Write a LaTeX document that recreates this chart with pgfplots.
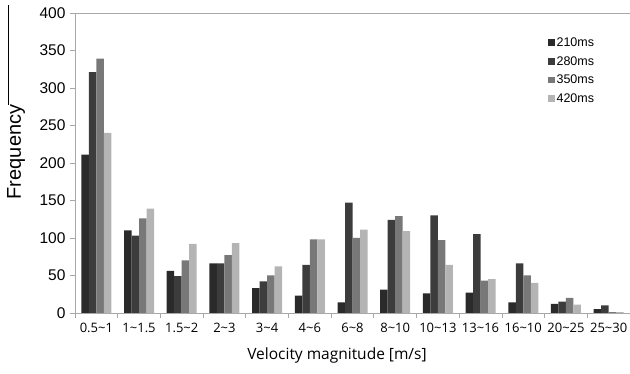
\documentclass[border=0pt]{standalone}
\usepackage{fontspec}
\setmainfont{Liberation Sans}
\newfontfamily\xfont{Open Sans}
\usepackage{pgfplots}
\pgfplotsset{compat=1.18}
\definecolor{cA}{HTML}{2A2A2A}
\definecolor{cB}{HTML}{3C3C3C}
\definecolor{cC}{HTML}{787878}
\definecolor{cD}{HTML}{B4B4B4}
\definecolor{axg}{HTML}{A8A8A8}
\newcommand{\tl}{\textasciitilde}
\begin{document}
\begin{tikzpicture}
\path[use as bounding box] (0,0) rectangle (630pt,374pt);
\begin{axis}[
  at={(75pt,61pt)}, anchor=south west,
  scale only axis, width=555pt, height=300pt,
  ybar=0pt, bar width=7.5pt,
  xmin=-0.5, xmax=12.5, ymin=0, ymax=400,
  axis lines*=left,
  axis line style={axg, line width=0.9pt},
  xtick={0,...,12},
  xticklabels={0.5\tl1,1\tl1.5,1.5\tl2,2\tl3,3\tl4,4\tl6,6\tl8,8\tl10,10\tl13,13\tl16,16\tl10,20\tl25,25\tl30},
  major x tick style={draw=none},
  minor xtick={-0.5,0.5,...,12.5},
  minor x tick style={axg, line width=0.8pt},
  minor tick length=5pt,
  ytick={0,50,...,400},
  major y tick style={axg, line width=0.8pt},
  major tick length=5pt,
  tick align=outside,
  /pgf/number format/assume math mode=true,
  yticklabel style={font=\fontsize{15.5}{18}\selectfont, xshift=-1pt},
  xticklabel style={font=\xfont\fontsize{13}{15}\selectfont, yshift=-2pt},
  legend style={draw=none, fill=none, at={(rel axis cs:0.852,0.925)}, anchor=north west,
    font=\fontsize{12.5}{14}\selectfont, row sep=4.5pt, inner sep=0pt,
    legend cell align=left},
  legend image code/.code={\fill[#1,draw=none] (0pt,-3pt) rectangle (6.5pt,3.5pt);},
]
\addplot[fill=cA, draw=none] coordinates {(0,211) (1,110) (2,56) (3,66) (4,33) (5,23) (6,14) (7,31) (8,26) (9,27) (10,14) (11,12) (12,5)};
\addplot[fill=cB, draw=none] coordinates {(0,321) (1,103) (2,49) (3,66) (4,42) (5,64) (6,147) (7,124) (8,130) (9,105) (10,66) (11,15) (12,10)};
\addplot[fill=cC, draw=none] coordinates {(0,339) (1,126) (2,70) (3,77) (4,50) (5,98) (6,100) (7,129) (8,97) (9,43) (10,50) (11,20) (12,1)};
\addplot[fill=cD, draw=none] coordinates {(0,240) (1,139) (2,92) (3,93) (4,62) (5,98) (6,111) (7,109) (8,64) (9,45) (10,40) (11,11) (12,1)};
\legend{210ms,280ms,350ms,420ms}
\draw[axg, line width=0.9pt] (rel axis cs:0,1) -- (rel axis cs:1,1);
\end{axis}
\node[rotate=90, font=\fontsize{20}{24}\selectfont] at (16pt,222pt) {Frequency};
\node[font=\xfont\fontsize{15.5}{18}\selectfont] at (337pt,19pt) {Velocity magnitude [m/s]};
\draw[black, line width=0.8pt] (8pt,269pt) -- (8pt,369pt);
\end{tikzpicture}
\end{document}
